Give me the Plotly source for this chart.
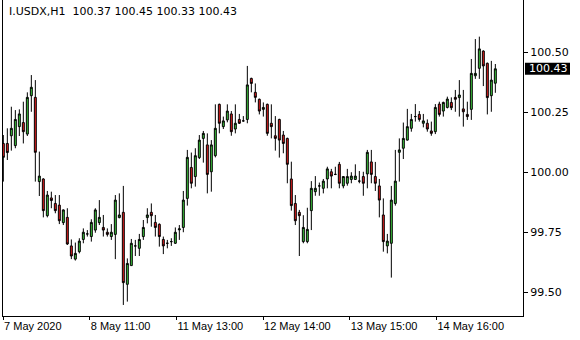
import plotly.graph_objects as go

symbol = "I.USDX,H1"

opens = [100.119, 100.119, 100.151, 100.110, 100.189, 100.206, 100.158, 100.318, 100.311, 99.960,
         99.971, 99.818, 99.892, 99.869, 99.862, 99.789, 99.811, 99.692, 99.637, 99.668,
         99.719, 99.742, 99.731, 99.758, 99.789, 99.769, 99.749, 99.731, 99.740, 99.810,
         99.832, 99.532, 99.610, 99.692, 99.682, 99.731, 99.810, 99.832, 99.790, 99.782,
         99.719, 99.703, 99.710, 99.703, 99.759, 99.769, 99.890, 100.019, 99.981, 100.060,
         100.140, 100.113, 100.001, 100.068, 100.282, 100.189, 100.217, 100.242, 100.179, 100.219,
         100.213, 100.219, 100.390, 100.332, 100.303, 100.261, 100.282, 100.203, 100.151, 100.219,
         100.154, 100.140, 99.971, 99.869, 99.832, 99.710, 99.710, 99.839, 99.918, 99.942,
         99.932, 99.971, 100.001, 99.990, 100.032, 99.942, 99.953, 99.969, 99.969, 99.962,
         99.981, 99.992, 100.042, 99.981, 99.942, 99.821, 99.692, 99.703, 99.869, 100.082,
         100.099, 100.133, 100.182, 100.231, 100.240, 100.203, 100.203, 100.171, 100.168, 100.283,
         100.254, 100.269, 100.290, 100.311, 100.310, 100.263, 100.240, 100.261, 100.401, 100.432,
         100.504, 100.453, 100.318, 100.37]
highs = [100.154, 100.182, 100.272, 100.258, 100.261, 100.293, 100.332, 100.404, 100.383, 100.085,
         99.974, 99.921, 99.918, 99.904, 99.904, 99.844, 99.849, 99.719, 99.706, 99.724,
         99.765, 99.758, 99.803, 99.849, 99.883, 99.821, 99.765, 99.783, 99.904, 99.911,
         99.942, 99.640, 99.721, 99.717, 99.742, 99.800, 99.849, 99.869, 99.821, 99.786,
         99.731, 99.717, 99.724, 99.769, 99.779, 99.921, 100.092, 100.081, 100.099, 100.154,
         100.171, 100.161, 100.133, 100.282, 100.285, 100.231, 100.282, 100.254, 100.282, 100.242,
         100.233, 100.442, 100.393, 100.369, 100.306, 100.290, 100.285, 100.282, 100.233, 100.222,
         100.171, 100.143, 100.043, 99.904, 99.842, 99.820, 99.851, 99.962, 99.983, 99.956,
         99.971, 100.022, 100.013, 100.022, 100.042, 99.983, 100.013, 99.999, 100.032, 100.004,
         100.001, 100.092, 100.092, 100.042, 99.971, 99.890, 99.742, 99.942, 100.092, 100.140,
         100.206, 100.263, 100.242, 100.283, 100.254, 100.242, 100.219, 100.210, 100.283, 100.293,
         100.293, 100.314, 100.311, 100.342, 100.383, 100.342, 100.293, 100.471, 100.554, 100.564,
         100.507, 100.456, 100.463, 100.45]
lows = [99.960, 100.050, 100.089, 100.099, 100.150, 100.119, 100.150, 100.251, 99.960, 99.900,
        99.811, 99.811, 99.849, 99.828, 99.783, 99.779, 99.696, 99.637, 99.631, 99.661,
        99.703, 99.731, 99.710, 99.747, 99.779, 99.731, 99.731, 99.717, 99.637, 99.807,
        99.446, 99.460, 99.610, 99.650, 99.650, 99.717, 99.786, 99.772, 99.731, 99.689,
        99.658, 99.682, 99.692, 99.700, 99.717, 99.749, 99.860, 99.932, 99.939, 100.054,
        100.039, 99.911, 99.918, 100.061, 100.161, 100.179, 100.207, 100.151, 100.161, 100.200,
        100.210, 100.203, 100.332, 100.290, 100.240, 100.231, 100.151, 100.140, 100.089, 100.060,
        100.078, 99.953, 99.839, 99.779, 99.650, 99.703, 99.703, 99.758, 99.901, 99.901,
        99.911, 99.932, 99.932, 99.987, 99.932, 99.932, 99.943, 99.953, 99.967, 99.953,
        99.901, 99.932, 99.953, 99.921, 99.811, 99.668, 99.661, 99.560, 99.860, 99.960,
        100.054, 100.131, 100.168, 100.210, 100.210, 100.186, 100.168, 100.151, 100.158, 100.231,
        100.231, 100.265, 100.258, 100.251, 100.231, 100.189, 100.217, 100.217, 100.388, 100.388,
        100.358, 100.240, 100.251, 100.33]
closes = [100.061, 100.081, 100.182, 100.219, 100.242, 100.168, 100.311, 100.353, 100.082, 99.983,
          99.839, 99.904, 99.881, 99.839, 99.797, 99.842, 99.700, 99.650, 99.661, 99.712,
          99.749, 99.742, 99.790, 99.842, 99.811, 99.758, 99.740, 99.749, 99.883, 99.821,
          99.539, 99.619, 99.703, 99.692, 99.719, 99.769, 99.821, 99.818, 99.769, 99.731,
          99.692, 99.703, 99.710, 99.749, 99.763, 99.883, 100.061, 99.953, 100.068, 100.133,
          100.161, 99.990, 100.113, 100.182, 100.203, 100.213, 100.254, 100.168, 100.203, 100.203,
          100.213, 100.363, 100.369, 100.311, 100.254, 100.269, 100.161, 100.189, 100.140, 100.133,
          100.119, 100.032, 99.860, 99.797, 99.818, 99.769, 99.761, 99.932, 99.932, 99.942,
          99.962, 100.013, 99.983, 99.990, 99.953, 99.981, 99.981, 99.983, 99.983, 99.962,
          99.953, 100.082, 99.990, 99.953, 99.883, 99.710, 99.712, 99.883, 99.962, 100.092,
          100.140, 100.189, 100.219, 100.231, 100.219, 100.213, 100.179, 100.161, 100.269, 100.240,
          100.290, 100.304, 100.268, 100.303, 100.321, 100.251, 100.231, 100.411, 100.411, 100.513,
          100.442, 100.310, 100.383, 100.43]

time_labels = ["7 May 2020", "8 May 11:00", "11 May 13:00", "12 May 14:00",
               "13 May 15:00", "14 May 16:00"]
price_ticks = [99.50, 99.75, 100.00, 100.25, 100.50]

# ---- layout / style ----
W, H = 580, 340
ML, MR, MT, MB = 3, 57, 0, 24
plot_w = W - ML - MR
plot_h = H - MT - MB
bar_px = 4.0
x_min = -1 / 12
x_max = x_min + plot_w / bar_px
label_step = 86.67 / bar_px
label_start = x_min + 0.01
y_min, y_max = 99.40, 100.7167

GREEN = "#3ec83e"
RED = "#e41e1e"
FONT_X = "Liberation Sans, Arial, sans-serif"
FONT_Y = "DejaVu Sans, Verdana, sans-serif"

idx = list(range(len(opens)))

fig = go.Figure(go.Candlestick(
    x=idx, open=opens, high=highs, low=lows, close=closes,
    increasing=dict(line=dict(color="black", width=1), fillcolor=GREEN),
    decreasing=dict(line=dict(color="black", width=1), fillcolor=RED),
    whiskerwidth=0, hoverinfo="skip",
))

fig.update_layout(
    width=W, height=H,
    margin=dict(l=ML, r=MR, t=MT, b=MB, pad=0),
    paper_bgcolor="white", plot_bgcolor="white",
    showlegend=False,
    font=dict(family=FONT_X, color="black", size=11),
    xaxis=dict(
        range=[x_min, x_max], rangeslider=dict(visible=False),
        showgrid=False, zeroline=False,
        showline=True, linecolor="black", linewidth=1, mirror=True,
        ticks="outside", ticklen=3, tickcolor="black", tickwidth=1,
        tickvals=[label_start + k * label_step for k in range(len(time_labels))],
        ticktext=time_labels,
        ticklabelposition="outside right",
        tickfont=dict(size=11, color="black", family=FONT_X),
    ),
    yaxis=dict(
        range=[y_min, y_max], side="right",
        showgrid=False, zeroline=False,
        showline=True, linecolor="black", linewidth=1, mirror=True,
        ticks="outside", ticklen=4, tickcolor="black", tickwidth=1,
        tickvals=price_ticks, ticktext=[f"{v:.2f}" for v in price_ticks],
        tickfont=dict(size=11, color="black", family=FONT_Y),
    ),
)

# current price label on the right scale
last = closes[-1]
yp = (last - y_min) / (y_max - y_min)
half_h = 6 / plot_h
fig.add_shape(type="rect", xref="paper", yref="paper",
              x0=1 + 2 / plot_w, x1=1 + 47 / plot_w, y0=yp - half_h, y1=yp + half_h,
              fillcolor="black", line=dict(width=0), layer="above")
fig.add_annotation(xref="paper", yref="paper", x=1 + 4 / plot_w, y=yp,
                   xanchor="left", yanchor="middle", showarrow=False,
                   text=f"{last:.2f}", font=dict(size=11, color="white", family=FONT_Y))

# header text with last bar OHLC
header = f"{symbol}\u00a0\u00a0{opens[-1]:.2f} {highs[-1]:.2f} {lows[-1]:.2f} {closes[-1]:.2f}"
fig.add_annotation(xref="paper", yref="paper", x=4 / plot_w, y=1 - 12 / plot_h,
                   xanchor="left", yanchor="middle", showarrow=False,
                   text=header, font=dict(size=11, color="black", family=FONT_Y))

fig.write_html("out.html")
